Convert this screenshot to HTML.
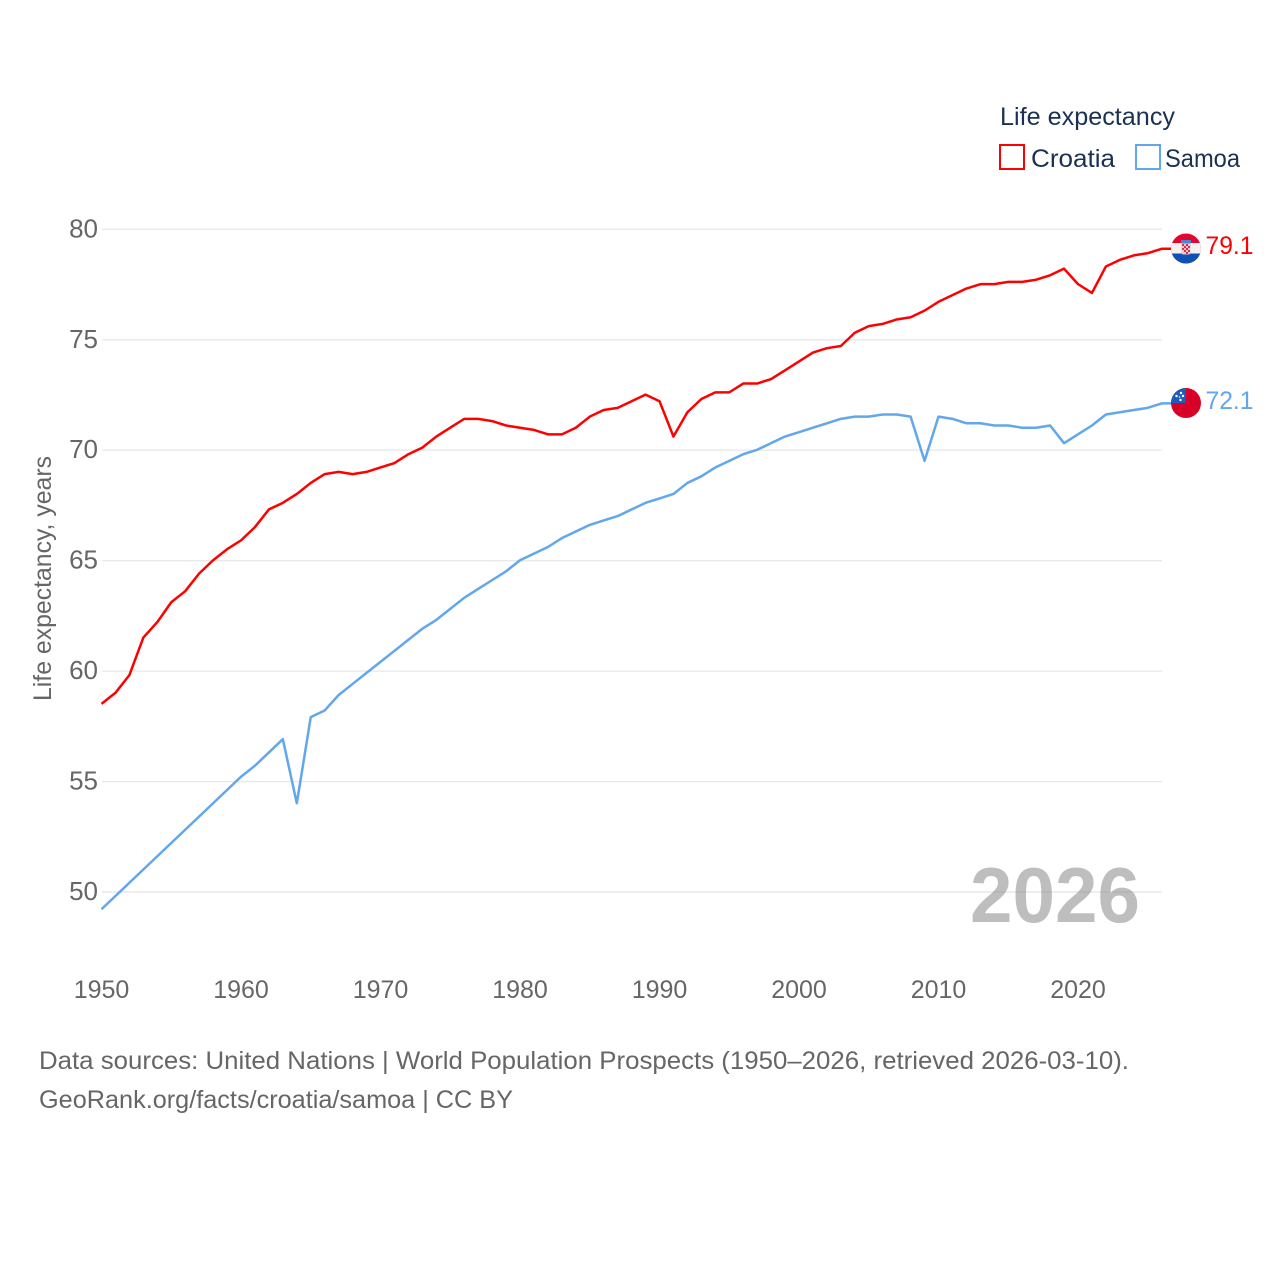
<!DOCTYPE html>
<html lang="en">
<head>
<meta charset="utf-8">
<title>Life expectancy: Croatia and Samoa</title>
<style>
html,body{margin:0;padding:0;background:#fff;}
svg{display:block;font-family:"Liberation Sans",sans-serif;}
</style>
</head>
<body>
<svg id="chart" xmlns="http://www.w3.org/2000/svg" width="1280" height="1280" viewBox="0 0 1280 1280">
  <defs>
    <clipPath id="flag-clip-top"><circle cx="1186" cy="248.5" r="15"/></clipPath>
    <clipPath id="flag-clip-bottom"><circle cx="1186" cy="403" r="15"/></clipPath>
  </defs>
  <rect x="0" y="0" width="1280" height="1280" fill="#ffffff"/>
  <g id="grid"></g>
  <g id="yticks"></g>
  <g id="xticks"></g>
  <text transform="translate(51,701) rotate(-90)" font-size="25" fill="#666666" textLength="245" lengthAdjust="spacingAndGlyphs">Life expectancy, years</text>
  <text id="year-label" x="970" y="922" font-size="78" font-weight="700" fill="#888888" fill-opacity="0.55" textLength="170" lengthAdjust="spacingAndGlyphs"></text>
  <g id="series"></g>

  <g clip-path="url(#flag-clip-top)">
    <rect x="1171" y="233" width="30" height="31" fill="#e2062c"/>
    <rect x="1171" y="243" width="30" height="10.5" fill="#f2f2f2"/>
    <rect x="1171" y="253.5" width="30" height="11" fill="#0f52b5"/>
    <rect x="1181" y="240" width="10" height="3.5" fill="#4a86d8"/>
    <rect x="1181.5" y="243.5" width="9" height="11" rx="2" fill="#f4c4cc"/>
    <rect x="1182" y="244" width="2" height="2" fill="#d8324a"/>
    <rect x="1186" y="244" width="2" height="2" fill="#d8324a"/>
    <rect x="1184" y="246" width="2" height="2" fill="#d8324a"/>
    <rect x="1188" y="246" width="2" height="2" fill="#d8324a"/>
    <rect x="1182" y="248" width="2" height="2" fill="#d8324a"/>
    <rect x="1186" y="248" width="2" height="2" fill="#d8324a"/>
    <rect x="1184" y="250" width="2" height="2" fill="#d8324a"/>
    <rect x="1188" y="250" width="2" height="2" fill="#d8324a"/>
    <rect x="1186" y="252" width="2" height="2" fill="#d8324a"/>
  </g>
  <g clip-path="url(#flag-clip-bottom)">
    <rect x="1171" y="388" width="30" height="30" fill="#d80027"/>
    <rect x="1171" y="388" width="15" height="15" fill="#1d5cb8"/>
    <circle cx="1181" cy="393" r="1.2" fill="#fff"/>
    <circle cx="1176.5" cy="396" r="1.2" fill="#fff"/>
    <circle cx="1183" cy="396" r="1.2" fill="#fff"/>
    <circle cx="1179.5" cy="397" r="0.8" fill="#fff"/>
    <circle cx="1180.5" cy="400" r="1.2" fill="#fff"/>
  </g>
  <g id="end-labels"></g>

  <g>
    <text x="1000" y="125" font-size="25" fill="#1a3152" textLength="175" lengthAdjust="spacingAndGlyphs">Life expectancy</text>
    <g>
      <rect x="1000" y="145" width="24" height="24" fill="#ffffff" stroke="#ff0000" stroke-width="2"/>
      <text x="1031" y="167" font-size="25" fill="#1a3152" textLength="84" lengthAdjust="spacingAndGlyphs">Croatia</text>
    </g>
    <g>
      <rect x="1136" y="145" width="24" height="24" fill="#ffffff" stroke="#62a6ec" stroke-width="2"/>
      <text x="1165" y="167" font-size="25" fill="#1a3152" textLength="75" lengthAdjust="spacingAndGlyphs">Samoa</text>
    </g>
  </g>

  <text x="39" y="1069" font-size="25" fill="#666666" textLength="1090" lengthAdjust="spacingAndGlyphs">Data sources: United Nations | World Population Prospects (1950–2026, retrieved 2026-03-10).</text>
  <text x="39" y="1108" font-size="25" fill="#666666" textLength="474" lengthAdjust="spacingAndGlyphs">GeoRank.org/facts/croatia/samoa | CC BY</text>
</svg>
<script>
const startYear = 1950;
const croatia = [58.5,59.0,59.8,61.5,62.2,63.1,63.6,64.4,65.0,65.5,65.9,66.5,67.3,67.6,68.0,68.5,68.9,69.0,68.9,69.0,69.2,69.4,69.8,70.1,70.6,71.0,71.4,71.4,71.3,71.1,71.0,70.9,70.7,70.7,71.0,71.5,71.8,71.9,72.2,72.5,72.2,70.6,71.7,72.3,72.6,72.6,73.0,73.0,73.2,73.6,74.0,74.4,74.6,74.7,75.3,75.6,75.7,75.9,76.0,76.3,76.7,77.0,77.3,77.5,77.5,77.6,77.6,77.7,77.9,78.2,77.5,77.1,78.3,78.6,78.8,78.9,79.1];
const samoa = [49.2,49.8,50.4,51.0,51.6,52.2,52.8,53.4,54.0,54.6,55.2,55.7,56.3,56.9,54.0,57.9,58.2,58.9,59.4,59.9,60.4,60.9,61.4,61.9,62.3,62.8,63.3,63.7,64.1,64.5,65.0,65.3,65.6,66.0,66.3,66.6,66.8,67.0,67.3,67.6,67.8,68.0,68.5,68.8,69.2,69.5,69.8,70.0,70.3,70.6,70.8,71.0,71.2,71.4,71.5,71.5,71.6,71.6,71.5,69.5,71.5,71.4,71.2,71.2,71.1,71.1,71.0,71.0,71.1,70.3,70.7,71.1,71.6,71.7,71.8,71.9,72.1];
const yTickValues = [50,55,60,65,70,75,80];
const xTickValues = [1950,1960,1970,1980,1990,2000,2010,2020];

const NS = 'http://www.w3.org/2000/svg';
function xScale(year){ return 101.5 + (year - 1950) * 13.95; }
function yScale(v){ return 892 - (v - 50) * 22.09; }

const gridG = document.getElementById('grid');
const yG = document.getElementById('yticks');
const xG = document.getElementById('xticks');
const seriesG = document.getElementById('series');
const labelsG = document.getElementById('end-labels');

yTickValues.forEach(function(v){
  const line = document.createElementNS(NS, 'line');
  
  
  line.setAttribute('x1', 102);
  line.setAttribute('x2', 1162);
  line.setAttribute('y1', yScale(v));
  line.setAttribute('y2', yScale(v));
  line.setAttribute('stroke', '#e9e9e9');
  line.setAttribute('stroke-width', '1.4');
  gridG.appendChild(line);

  const t = document.createElementNS(NS, 'text');
  
  
  t.setAttribute('x', 98);
  t.setAttribute('y', yScale(v) + 8);
  t.setAttribute('text-anchor', 'end');
  t.setAttribute('font-size', '26');
  t.setAttribute('fill', '#666666');
  t.textContent = v;
  yG.appendChild(t);
});

xTickValues.forEach(function(y){
  const t = document.createElementNS(NS, 'text');
  
  
  t.setAttribute('x', xScale(y));
  t.setAttribute('y', 998);
  t.setAttribute('text-anchor', 'middle');
  t.setAttribute('font-size', '25');
  t.setAttribute('fill', '#666666');
  t.textContent = y;
  xG.appendChild(t);
});

function drawSeries(values, color, lineName, labelName){
  const pts = values.map(function(v, i){
    return xScale(startYear + i).toFixed(2) + ',' + (yScale(v) - 0.4).toFixed(2);
  });
  const lastV = values[values.length - 1];
  const lastY = yScale(lastV);
  const line = document.createElementNS(NS, 'polyline');
  
  
  line.setAttribute('points', pts.join(' ') + ' 1171,' + (lastY - 0.4).toFixed(2));
  line.setAttribute('fill', 'none');
  line.setAttribute('stroke', color);
  line.setAttribute('stroke-width', '2.5');
  line.setAttribute('stroke-linejoin', 'round');
  seriesG.appendChild(line);

  const t = document.createElementNS(NS, 'text');
  
  
  t.setAttribute('x', 1205.5);
  t.setAttribute('y', lastY + 5);
  t.setAttribute('font-size', '25');
  t.setAttribute('fill', color);
  t.setAttribute('textLength', '48');
  t.setAttribute('lengthAdjust', 'spacingAndGlyphs');
  t.textContent = lastV.toFixed(1);
  labelsG.appendChild(t);
}
drawSeries(croatia, '#ff0000', 'line-croatia', 'end-label-croatia');
drawSeries(samoa, '#62a6ec', 'line-samoa', 'end-label-samoa');

document.getElementById('year-label').textContent = startYear + croatia.length - 1;
</script>
</body>
</html>
